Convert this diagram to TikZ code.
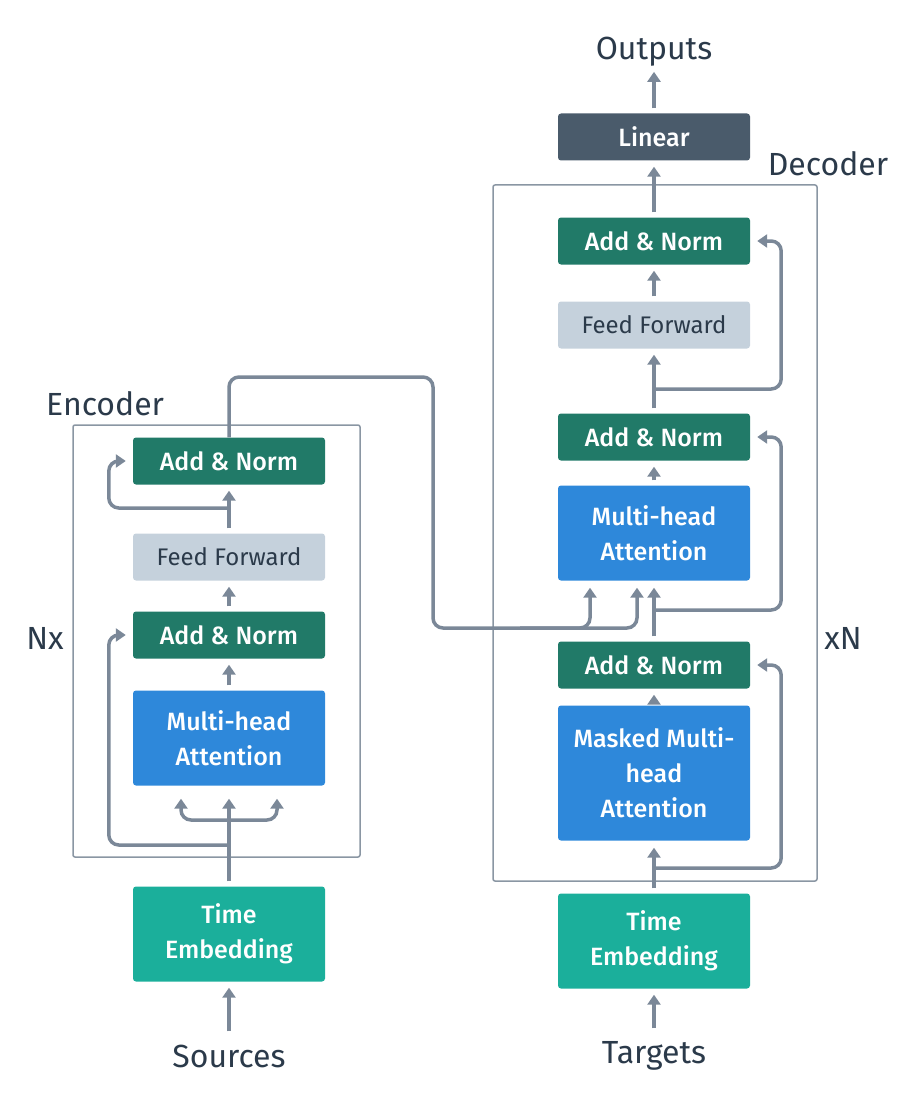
\documentclass[tikz,border=0pt]{standalone}
\usepackage{fontspec}
\setmainfont{Fira Sans}
\newfontfamily\medfont{Fira Sans Medium}
\usetikzlibrary{arrows.meta,positioning}
\definecolor{TGreen}{HTML}{217A68}
\definecolor{TBlue}{HTML}{2E88DA}
\definecolor{TTeal}{HTML}{1BAF9B}
\definecolor{TSlate}{HTML}{4A5B6B}
\definecolor{TFog}{HTML}{C5D1DC}
\definecolor{TInk}{HTML}{2B3A4A}
\definecolor{TWire}{HTML}{7B8898}
\definecolor{TFrame}{HTML}{8A96A3}

\begin{document}
\begin{tikzpicture}[
  x=1pt,y=-1pt,
  every node/.style={font=\fontsize{25}{35}\selectfont},
  block/.style={rounded corners=3pt,minimum width=192pt,minimum height=47pt,
    inner sep=0pt,align=center,text=white,font=\fontsize{25}{35}\selectfont\medfont},
  addnorm/.style={block,fill=TGreen},
  attn/.style={block,fill=TBlue,minimum height=95pt},
  ffwd/.style={block,fill=TFog,text=TInk,font=\fontsize{24}{35}\selectfont},
  embed/.style={block,fill=TTeal,minimum height=95pt},
  linear/.style={block,fill=TSlate},
  lbl/.style={text=TInk,font=\fontsize{32}{36}\selectfont,inner sep=1pt},
  frame/.style={draw=TFrame,line width=1.5pt,rounded corners=2pt},
  tip/.style={-{Triangle[length=10pt,width=13pt]}},
  arr/.style={tip,line width=3.5pt,color=TWire,
    shorten >=6pt,shorten <=5pt},
  wire/.style={line width=3.5pt,color=TWire,rounded corners=10pt}
]
  \useasboundingbox (0,0) rectangle (916,1102);

  % encoder
  \draw[frame] (73,425) rectangle (360,857);
  \node[lbl,anchor=west] (enclbl) at (45,404) {Encoder};
  \node[lbl] (encnx) at (45,638) {Nx};
  \node[addnorm] (encan2) at (229,461) {Add \& Norm};
  \node[ffwd] (encff) at (229,557) {Feed Forward};
  \node[addnorm] (encan1) at (229,635) {Add \& Norm};
  \node[attn] (encmha) at (229,738) {Multi-head\\Attention};
  \node[embed] (encemb) at (229,934) {Time\\Embedding};
  \node[lbl] (srcs) at (229,1056) {Sources};

  % decoder
  \draw[frame] (493,185) rectangle (817,881);
  \node[lbl] (outs) at (654,52) {Outputs};
  \node[linear] (linear) at (654,137) {Linear};
  \node[lbl] (declbl) at (828,164) {Decoder};
  \node[lbl] (decxn) at (843,638) {xN};
  \node[addnorm] (decan3) at (654,241) {Add \& Norm};
  \node[ffwd] (decff) at (654,325) {Feed Forward};
  \node[addnorm] (decan2) at (654,437) {Add \& Norm};
  \node[attn] (decmha) at (654,533) {Multi-head\\Attention};
  \node[addnorm] (decan1) at (654,665) {Add \& Norm};
  \node[attn,minimum height=135pt] (decmmha) at (654,773) {Masked Multi-\\head\\Attention};
  \node[embed] (decemb) at (654,941) {Time\\Embedding};
  \node[lbl] (tgts) at (654,1056) {Targets};

  \coordinate (encsplit1) at (229,845);
  \coordinate (encfork) at (229,820);
  \coordinate (encsplit2) at (229,508);
  \coordinate (encout) at (433,377);
  \coordinate (crossy) at (433,628);
  \coordinate (crossmid) at (520,628);
  \coordinate (decsplit1) at (654,868);
  \coordinate (decsplit2) at (654,610);
  \coordinate (decsplit3) at (654,389);

  % encoder wiring
  \draw[arr,shorten <=12pt] (srcs) -- (encemb);
  \draw[arr,shorten >=13pt] (encemb) -- (encmha);
  \draw[wire,{Triangle[length=10pt,width=13pt]}-{Triangle[length=10pt,width=13pt]}]
    ([xshift=-48pt,yshift=-13pt]encmha.south) |- (encfork) -| ([xshift=48pt,yshift=-13pt]encmha.south);
  \draw[arr,rounded corners=10pt,shorten <=0pt,shorten >=7pt] (encsplit1) -| ([xshift=-24pt]encan1.west) -- (encan1.west);
  \draw[arr] (encmha) -- (encan1);
  \draw[arr] (encan1) -- (encff);
  \draw[arr] (encff) -- (encan2);
  \draw[arr,rounded corners=10pt,shorten <=0pt,shorten >=7pt] (encsplit2) -| ([xshift=-24pt]encan2.west) -- (encan2.west);
  \draw[arr,rounded corners=10pt,shorten <=0pt,shorten >=7pt] (encan2.north) |- (encout) -- (crossy) -| ([xshift=-17pt]decmha.south);
  \draw[arr,rounded corners=10pt,shorten <=0pt,shorten >=7pt] (crossmid) -| ([xshift=-64pt]decmha.south);

  % decoder wiring
  \draw[arr,shorten <=12pt] (tgts) -- (decemb);
  \draw[arr,shorten >=7pt] (decemb) -- (decmmha);
  \draw[arr,rounded corners=10pt,shorten <=0pt,shorten >=7pt] (decsplit1) -| ([xshift=31pt]decan1.east) -- (decan1.east);
  \draw[arr] (decmmha) -- (decan1);
  \draw[arr,shorten >=7pt] (decan1) -- (decmha);
  \draw[arr,rounded corners=10pt,shorten <=0pt,shorten >=7pt] (decsplit2) -| ([xshift=31pt]decan2.east) -- (decan2.east);
  \draw[arr] (decmha) -- (decan2);
  \draw[arr] (decan2) -- (decff);
  \draw[arr,rounded corners=10pt,shorten <=0pt,shorten >=7pt] (decsplit3) -| ([xshift=31pt]decan3.east) -- (decan3.east);
  \draw[arr] (decff) -- (decan3);
  \draw[arr] (decan3) -- (linear);
  \draw[arr,shorten >=4pt] (linear) -- (outs);
\end{tikzpicture}
\end{document}
